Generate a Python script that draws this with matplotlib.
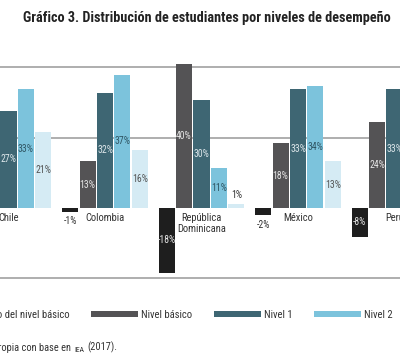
import matplotlib
matplotlib.use("Agg")
import matplotlib.pyplot as plt
from matplotlib import font_manager as fm
from matplotlib.patches import Patch
import numpy as np

names = {f.name for f in fm.fontManager.ttflist}
cands = ["Roboto Condensed", "Archivo Narrow", "Fira Sans Condensed", "Barlow Condensed",
         "PT Sans Narrow", "Liberation Sans Narrow", "Encode Sans Condensed",
         "Asap Condensed", "IBM Plex Sans Condensed", "Open Sans Condensed", "DejaVu Sans"]
FONT = next(c for c in cands if c in names)
plt.rcParams['font.family'] = [FONT, 'DejaVu Sans']

countries = ["Chile", "Colombia", "República\nDominicana", "México", "Perú"]
series = ["Debajo del nivel básico", "Nivel básico", "Nivel 1", "Nivel 2", "Nivel 3"]
debajo = [-3, -1, -18, -2, -8]
basico = [16, 13, 40, 18, 24]
nivel1 = [27, 32, 30, 33, 33]
nivel2 = [33, 37, 11, 34, 22]
nivel3 = [21, 16, 1, 13, 10]
values = [debajo, basico, nivel1, nivel2, nivel3]

colors = ["#1e1e1e", "#545355", "#3e6673", "#7cc3dc", "#d5ebf4"]
label_colors = ["#e6e6e6", "#e6e6e6", "#dde6ea", "#2f5563", "#555555"]

W, H = 400, 359
fig = plt.figure(figsize=(W / 100, H / 100), dpi=100)

top_px, bot_px = 50, 290
zero_px = 208
ppu = 3.6
ax = fig.add_axes([0, (H - bot_px) / H, 1, (bot_px - top_px) / H])
ax.set_ylim(-(bot_px - zero_px) / ppu, (zero_px - top_px) / ppu)
spacing = 96.5
c0 = 8.5
ax.set_xlim((0 - c0) / spacing, (W - c0) / spacing)
ax.axis('off')

for g in [-19.5, 19.5, 39.2]:
    ax.axhline(g, color="#a8a8a8", lw=1.3, zorder=0)

x = np.arange(len(countries))
step = 0.181
bw = 0.166
for i, (vals, col, lc) in enumerate(zip(values, colors, label_colors)):
    xs = x + (i - 2) * step
    ax.bar(xs, vals, width=bw, color=col, zorder=2)
    for xi, v in zip(xs, vals):
        txt = f"{v}%"
        if abs(v) >= 3:
            ax.text(xi, v / 2, txt, ha='center', va='center', fontsize=7,
                    color=lc, zorder=3)
        else:
            off = 1.2 if v > 0 else -1.2
            ax.text(xi, v + off, txt, ha='center',
                    va='bottom' if v > 0 else 'top', fontsize=7,
                    color="#333333", zorder=3)

for xi, c in zip(x, countries):
    ax.annotate(c, (xi, 0), xytext=(0, -3.5), textcoords='offset points',
                ha='center', va='top', fontsize=7.6, color="#333333",
                linespacing=1.15)

fig.text(0.516, 1 - 18 / H, "Gráfico 3. Distribución de estudiantes por niveles de desempeño",
         ha='center', va='center', fontsize=10.3, fontweight='bold', color="#222222")

handles = [Patch(facecolor=c, edgecolor='none') for c in colors[:4]]
leg = fig.legend(handles, series[:4], loc='center left',
                 bbox_to_anchor=(-77 / W, 1 - 315 / H), ncol=4, frameon=False,
                 fontsize=7.7, handlelength=4.4, handleheight=0.55,
                 handletextpad=0.28, columnspacing=2.0, borderpad=0,
                 borderaxespad=0, labelcolor="#333333")

t1 = fig.text(-0.2255, 1 - 348 / H, "Fuente: elaboración propia con base en",
              ha='left', va='center', fontsize=7.5, color="#333333")
t2 = fig.add_artist(matplotlib.text.Annotation(
    "IEA", xy=(1, 0), xycoords=t1, xytext=(2.5, 0),
    textcoords='offset points', va='bottom', fontsize=5.5, color="#333333"))
t3 = fig.add_artist(matplotlib.text.Annotation(
    "(2017).", xy=(1, 0), xycoords=t2, xytext=(2.5, 0),
    textcoords='offset points', va='bottom', fontsize=7.5, color="#333333"))

fig.savefig("out.png", dpi=100)
